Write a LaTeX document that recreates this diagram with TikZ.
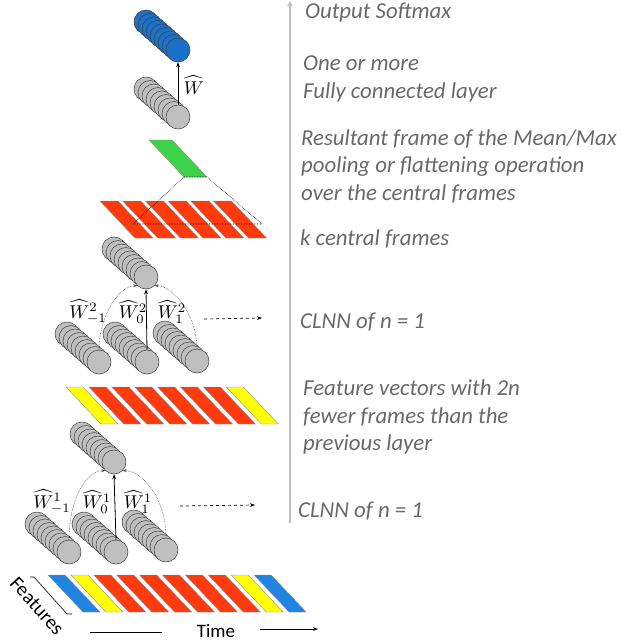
\documentclass[tikz,border=0pt]{standalone}
\usepackage{amsmath}
\usepackage{fontspec}
\usetikzlibrary{arrows.meta}
\newfontfamily\notefont{Carlito}

\definecolor{cellgray}{RGB}{191,191,191}
\definecolor{cellblue}{RGB}{28,112,200}
\definecolor{framered}{RGB}{255,58,12}
\definecolor{frameyellow}{RGB}{255,255,0}
\definecolor{frameblue}{RGB}{32,132,225}
\definecolor{framegreen}{RGB}{62,210,72}
\definecolor{notegray}{RGB}{105,105,105}
\definecolor{axisgray}{RGB}{190,190,190}

% a stack of cells, front cell named #1 at (#2,#3)
\newcommand{\cellstack}[4]{%
  \foreach \i in {8,...,1}
    \node[cell, fill=#4] at (#2-4*\i, #3-3.5*\i) {};
  \node[cell, fill=#4] (#1) at (#2, #3) {};
}
% one slanted frame, top left corner at (#1,#2), width #3
\newcommand{\tframe}[4]{%
  \filldraw[frame, fill=#4] (#1, #2) -- ++(#3, 0) -- ++(35, 37) -- ++(-#3, 0) -- cycle;
}

\begin{document}
\begin{tikzpicture}[
  x=1pt, y=-1pt,
  cell/.style={
    circle, draw=black!75, line width=0.5pt, minimum size=24pt, inner sep=0pt
  },
  frame/.style={draw=black!45, line width=0.4pt},
  note/.style={
    font=\notefont\itshape\fontsize{22.8}{27.5}\selectfont,
    text=notegray, align=left, anchor=west, inner sep=0pt
  },
  wlabel/.style={scale=1.85, inner sep=0pt},
  link/.style={densely dotted, line width=0.6pt, black!70, -{Stealth[length=4pt]}},
  next/.style={dashed, line width=0.7pt, -{Stealth[length=5pt]}}
  ]
  \useasboundingbox (0,0) rectangle (639,643);

  % time axis on the right
  \coordinate (axisbot) at (290,523);
  \coordinate (axistop) at (290,1);
  \draw[axisgray, line width=1.5pt, -{Triangle[length=5pt,width=5pt]}] (axisbot) -- (axistop);

  % input frames
  \foreach \c [count=\k from 0] in {frameblue, frameyellow, framered, framered, framered,
      framered, framered, framered, frameyellow, frameblue}
    {\tframe{48+22.9*\k}{575}{17}{\c}}
  \node[rotate=-48, inner sep=0pt, font=\notefont\fontsize{20}{22}\selectfont] (feat) at (37,606) {Features};
  \draw[line width=0.6pt] (30,577) -- (34,577) -- (67,614) -- (72,614);
  \node[font=\notefont\fontsize{19}{21}\selectfont] (time) at (216,631) {Time};
  \coordinate (timea) at (90,632);
  \coordinate (timeb) at (162,632);
  \coordinate (timec) at (260,629);
  \coordinate (timed) at (318,629);
  \draw[line width=0.6pt] (timea) -- (timeb);
  \draw[line width=0.6pt, -{Stealth[length=5pt]}] (timec) -- (timed);

  % first CLNN
  \cellstack{l1}{69}{552}{cellgray}
  \cellstack{m1}{116}{552}{cellgray}
  \cellstack{r1}{166}{550}{cellgray}
  \cellstack{t1}{114}{462}{cellgray}
  \draw[line width=0.8pt, -{Stealth[length=5pt]}] (m1.north) -- (t1.south);
  \draw[link] (l1.north) .. controls +(0,-39) and +(-20,0) .. (t1.south west);
  \draw[link] (r1.north) .. controls +(0,-39) and +(20,0) .. (t1.south east);
  \node[wlabel] (w1a) at (52,502) {$\widehat{W}^1_{-1}$};
  \node[wlabel] (w1b) at (97,502) {$\widehat{W}^1_0$};
  \node[wlabel] (w1c) at (138,502) {$\widehat{W}^1_1$};
  \coordinate (n1a) at (180,506);
  \coordinate (n1b) at (255,505);
  \draw[next] (n1a) -- (n1b);

  % frames after the first CLNN
  \foreach \c [count=\k from 0] in {frameyellow, framered, framered, framered,
      framered, framered, framered, frameyellow}
    {\tframe{66+22.9*\k}{387}{17}{\c}}

  % second CLNN
  \cellstack{l2}{99}{362}{cellgray}
  \cellstack{m2}{147}{362}{cellgray}
  \cellstack{r2}{197}{361}{cellgray}
  \cellstack{t2}{146}{277}{cellgray}
  \draw[line width=0.8pt, -{Stealth[length=5pt]}] (m2.north) -- (t2.south);
  \draw[link] (l2.north) .. controls +(0,-34) and +(-18,0) .. (t2.south west);
  \draw[link] (r2.north) .. controls +(0,-34) and +(18,0) .. (t2.south east);
  \node[wlabel] (w2a) at (88,312) {$\widehat{W}^2_{-1}$};
  \node[wlabel] (w2b) at (133,312) {$\widehat{W}^2_0$};
  \node[wlabel] (w2c) at (172,312) {$\widehat{W}^2_1$};
  \coordinate (n2a) at (204,319);
  \coordinate (n2b) at (262,318);
  \draw[next] (n2a) -- (n2b);

  % k central frames and pooled frame
  \foreach \k in {0,...,5}
    {\tframe{100+22.7*\k}{201}{18}{framered}}
  \tframe{149}{140}{23}{framegreen}
  \coordinate (gbl) at (184,177);
  \coordinate (gbr) at (207,177);
  \coordinate (kbl) at (133,224);
  \coordinate (kbr) at (262,224);
  \draw[densely dotted, line width=0.6pt] (gbl) -- (kbl) -- (kbr) -- (gbr) -- cycle;

  % fully connected and softmax
  \cellstack{fc}{178}{117}{cellgray}
  \cellstack{out}{178}{50}{cellblue}
  \draw[line width=0.8pt, -{Stealth[length=5pt]}] (fc.north) -- (out.south);
  \node[wlabel] (w) at (194,85) {$\widehat{W}$};

  % notes
  \node[note] (softmax) at (305,13) {Output Softmax};
  \node[note] (fcnote) at (303,79) {One or more\\Fully connected layer};
  \node[note] (pool) at (301,166) {Resultant frame of the Mean/Max\\pooling or flattening operation\\over the central frames};
  \node[note] (central) at (300,239) {k central frames};
  \node[note] (clnn2) at (300,322) {CLNN of n = 1};
  \node[note] (featnote) at (303,417) {Feature vectors with 2n\\fewer frames than the\\previous layer};
  \node[note] (clnn1) at (298,511) {CLNN of n = 1};
\end{tikzpicture}
\end{document}
